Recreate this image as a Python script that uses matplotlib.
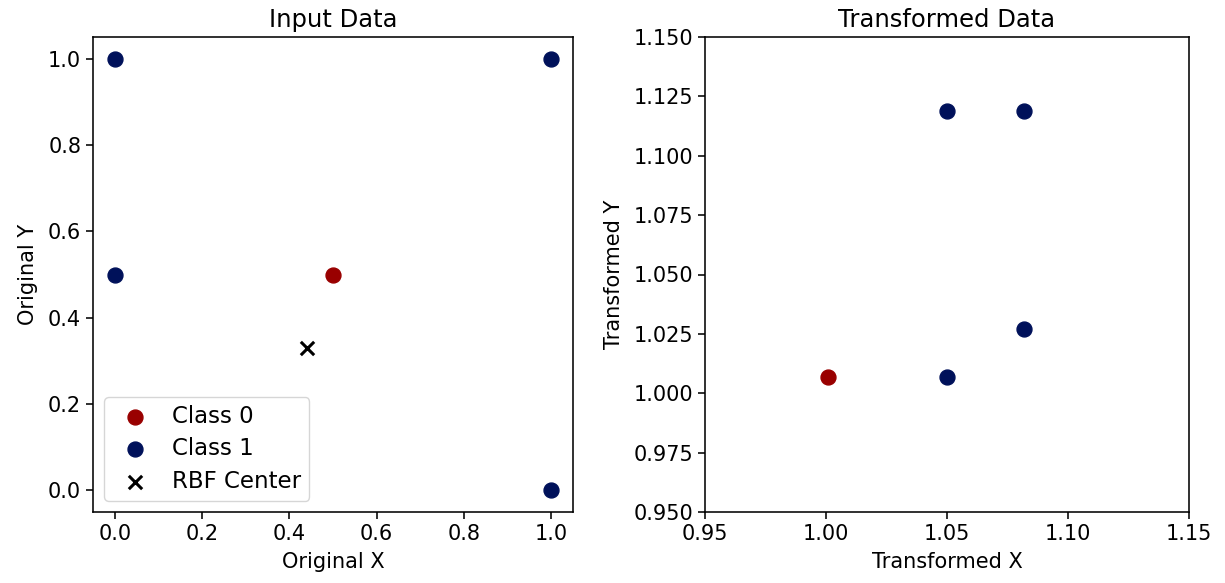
import matplotlib
matplotlib.use("Agg")
import matplotlib.pyplot as plt
import numpy as np

# Input data
class0_x = [0.5]
class0_y = [0.5]
class1_x = [0.0, 1.0, 0.0, 1.0]
class1_y = [1.0, 1.0, 0.5, 0.0]
center_x = [0.44]
center_y = [0.33]

# Transformed data
t_class0_x = [1.001]
t_class0_y = [1.007]
t_class1_x = [1.050, 1.082, 1.050, 1.082]
t_class1_y = [1.119, 1.119, 1.007, 1.027]

red = "#990000"
blue = "#00115a"

S = 1.42
plt.rcParams.update({
    "font.size": 15,
    "axes.titlesize": 17.5,
    "axes.labelsize": 15,
    "xtick.labelsize": 15,
    "ytick.labelsize": 15,
    "legend.fontsize": 16.5,
    "axes.linewidth": 0.8 * S,
    "xtick.major.width": 0.8 * S,
    "ytick.major.width": 0.8 * S,
    "xtick.major.size": 3.5 * S,
    "ytick.major.size": 3.5 * S,
})

fig = plt.figure(figsize=(12.25, 5.83), dpi=100)
W, H = 1225, 583
ax1 = fig.add_axes([93 / W, 1 - 512 / H, 480 / W, 475 / H])
ax2 = fig.add_axes([705 / W, 1 - 512 / H, 484 / W, 475 / H])

ms = 115
ax1.scatter(class0_x, class0_y, color=red, s=ms, label="Class 0")
ax1.scatter(class1_x, class1_y, color=blue, s=ms, label="Class 1")
ax1.scatter(center_x, center_y, color="black", marker="x", s=ms * 0.8,
            linewidths=2.2, label="RBF Center")
ax1.set_title("Input Data", pad=5 * S)
ax1.set_xlabel("Original X", labelpad=4 * S)
ax1.set_ylabel("Original Y", labelpad=5 * S)
ax1.legend(loc="lower left", handletextpad=0.6, borderpad=0.35, labelspacing=0.4)

ax2.scatter(t_class0_x, t_class0_y, color=red, s=ms)
ax2.scatter(t_class1_x, t_class1_y, color=blue, s=ms)
ax2.set_xlim(0.95, 1.15)
ax2.set_ylim(0.95, 1.15)
ax2.set_xticks(np.arange(0.95, 1.151, 0.05))
ax2.set_yticks(np.arange(0.95, 1.151, 0.025))
ax2.set_title("Transformed Data", pad=5 * S)
ax2.set_xlabel("Transformed X", labelpad=4 * S)
ax2.set_ylabel("Transformed Y", labelpad=5 * S)

fig.savefig("out.png", dpi=100)
